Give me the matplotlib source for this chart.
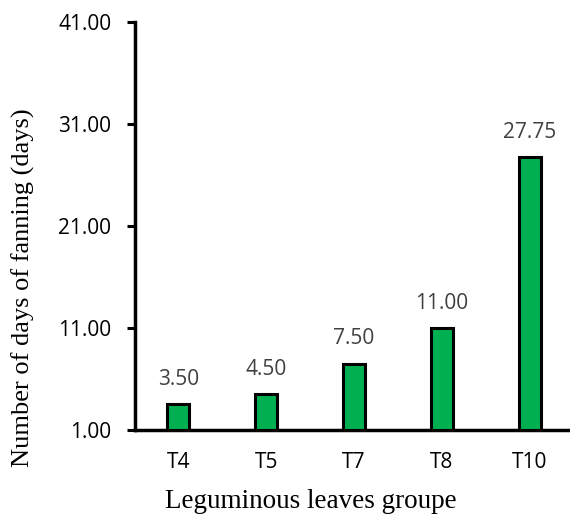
import numpy as np
import matplotlib.pyplot as plt

groups = ['T4', 'T5', 'T7', 'T8', 'T10']
days = [3.50, 4.50, 7.50, 11.00, 27.75]
y_ticks = [1, 11, 21, 31, 41]

fig = plt.figure(figsize=(5.70, 5.18), dpi=100)
ax = fig.add_axes([0.237, 0.17, 0.77, 0.7875])

x = np.arange(len(groups))
base = y_ticks[0]
heights = [d - base for d in days]
ax.bar(x, heights, bottom=base, width=0.25, color='#00B050',
       edgecolor='black', linewidth=2.2, zorder=3)

for xi, d in zip(x, days):
    ax.text(xi, d + 1.4, f'{d:.2f}', ha='center', va='bottom',
            fontsize=15, color='#404040', family='Open Sans')

ax.set_xlim(-0.49, 4.5)
ax.set_ylim(1, 41)
ax.set_yticks(y_ticks)
ax.set_yticklabels([f'{v:.2f}' for v in y_ticks], family='Open Sans', fontsize=15)
ax.set_xticks(x)
ax.set_xticklabels(groups, family='Open Sans', fontsize=15)
ax.tick_params(axis='x', length=0, pad=16)
ax.tick_params(axis='y', length=6, width=2.2, pad=11)

for s in ['top', 'right']:
    ax.spines[s].set_visible(False)
for s in ['left', 'bottom']:
    ax.spines[s].set_linewidth(2.5)

ax.set_xlabel('Leguminous leaves groupe', family='Liberation Serif', fontsize=19.5)
ax.set_ylabel('Number of days of fanning (days)', family='Liberation Serif', fontsize=19)
ax.xaxis.set_label_coords(0.4, -0.145)
ax.yaxis.set_label_coords(-0.228, 0.348)

plt.savefig('out.png', dpi=100)
